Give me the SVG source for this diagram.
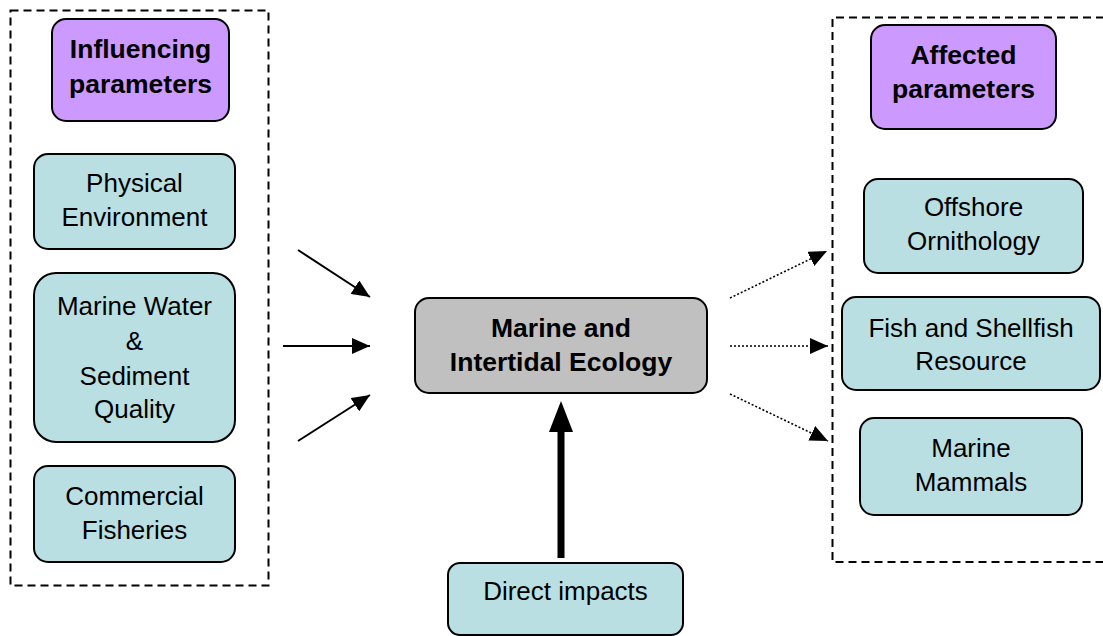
<svg xmlns="http://www.w3.org/2000/svg" width="1103" height="636" viewBox="0 0 1103 636">
<style>
.box{stroke:#000;stroke-width:2}
.purple{fill:#cc99ff}
.teal{fill:#b9dfe2}
.gray{fill:#c0c0c0}
.frame{fill:none;stroke:#000;stroke-width:2;stroke-dasharray:8,5}
text{font-family:"Liberation Sans",Arial,sans-serif;font-size:26px;fill:#000;text-anchor:middle}
.b{font-weight:bold;font-size:26.5px}
.solid{stroke:#000;stroke-width:2;fill:none}
.dot{stroke:#000;stroke-width:1.6;fill:none;stroke-dasharray:2,2}
</style>
<defs>
<marker id="ah" markerUnits="userSpaceOnUse" markerWidth="18" markerHeight="16" refX="18" refY="8" orient="auto" viewBox="0 0 18 16">
<path d="M0,0 L18,8 L0,16 z" fill="#000"/>
</marker>
</defs>
<rect width="1103" height="636" fill="#fff"/>
<g id="frames">
<rect class="frame" x="10.5" y="10.5" width="258" height="575"/>
<path class="frame" d="M1104,17.5 H832.5 V562 H1104"/>
</g>
<g id="connectors">
<line class="solid" x1="298" y1="250" x2="370" y2="297" marker-end="url(#ah)"/>
<line class="solid" x1="283" y1="346" x2="370" y2="346" marker-end="url(#ah)"/>
<line class="solid" x1="298" y1="441" x2="370" y2="395" marker-end="url(#ah)"/>
<line class="dot" x1="730" y1="298" x2="827" y2="251" marker-end="url(#ah)"/>
<line class="dot" x1="730" y1="346" x2="828" y2="346" marker-end="url(#ah)"/>
<line class="dot" x1="730" y1="394" x2="828" y2="441" marker-end="url(#ah)"/>
<line x1="561" y1="558" x2="561" y2="428" stroke="#000" stroke-width="7"/>
<polygon points="549,432 573,432 561,401" fill="#000"/>
</g>
<g id="influencing">
<rect class="box purple" x="52" y="19" width="177" height="102" rx="14"/>
<text class="b" x="140.5" y="58">Influencing</text>
<text class="b" x="140.5" y="93">parameters</text>
</g>
<g id="physical">
<rect class="box teal" x="34" y="154" width="201" height="95" rx="14"/>
<text x="134.5" y="192">Physical</text>
<text x="134.5" y="226">Environment</text>
</g>
<g id="marinewater">
<rect class="box teal" x="34" y="273" width="201" height="169" rx="22"/>
<text x="134.5" y="315">Marine Water</text>
<text x="134.5" y="350">&amp;</text>
<text x="134.5" y="385">Sediment</text>
<text x="134.5" y="418">Quality</text>
</g>
<g id="fisheries">
<rect class="box teal" x="34" y="466" width="201" height="96" rx="14"/>
<text x="134.5" y="505">Commercial</text>
<text x="134.5" y="539">Fisheries</text>
</g>
<g id="center">
<rect class="box gray" x="415" y="298" width="292" height="95" rx="14"/>
<text class="b" x="561" y="337">Marine and</text>
<text class="b" x="561" y="371">Intertidal Ecology</text>
</g>
<g id="direct">
<rect class="box teal" x="448" y="563" width="235" height="72" rx="12"/>
<text x="565.5" y="600">Direct impacts</text>
</g>
<g id="affected">
<rect class="box purple" x="871" y="25" width="185" height="104" rx="14"/>
<text class="b" x="963.5" y="64">Affected</text>
<text class="b" x="963.5" y="98">parameters</text>
</g>
<g id="ornithology">
<rect class="box teal" x="864" y="179" width="219" height="94" rx="14"/>
<text x="973.5" y="216">Offshore</text>
<text x="973.5" y="250">Ornithology</text>
</g>
<g id="fish">
<rect class="box teal" x="842" y="297" width="258" height="93" rx="14"/>
<text x="971" y="337">Fish and Shellfish</text>
<text x="971" y="370">Resource</text>
</g>
<g id="mammals">
<rect class="box teal" x="860" y="418" width="222" height="97" rx="14"/>
<text x="971" y="457">Marine</text>
<text x="971" y="491">Mammals</text>
</g>
</svg>
